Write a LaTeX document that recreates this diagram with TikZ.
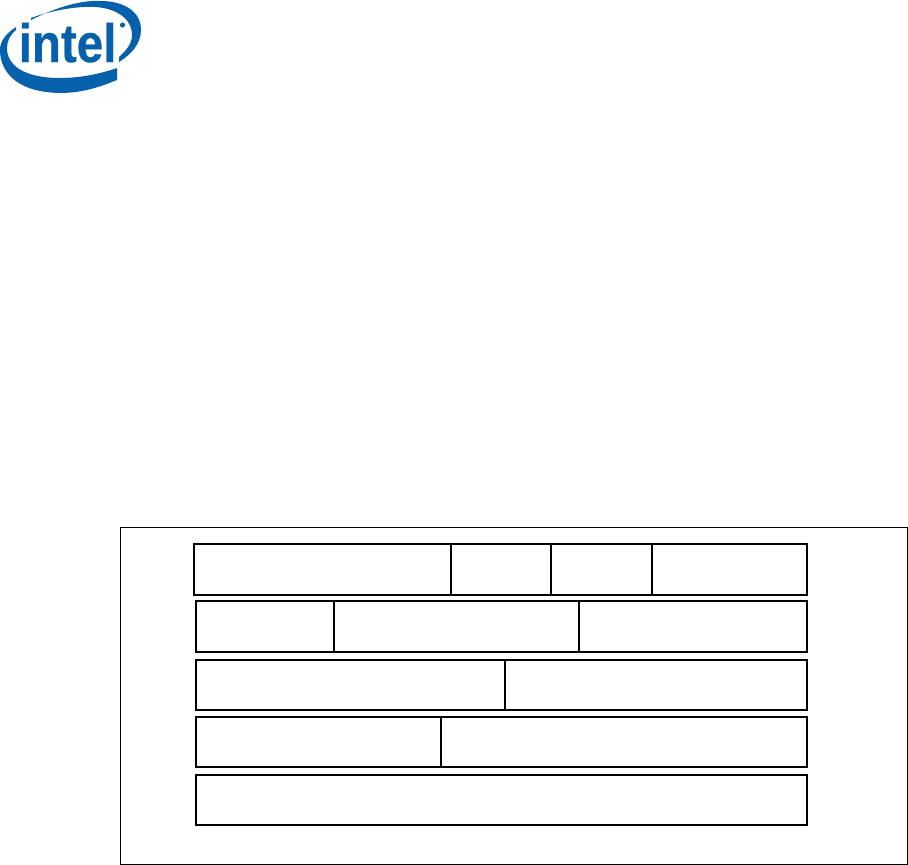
\documentclass[tikz,border=0pt]{standalone}
\usepackage{fontspec}
\setmainfont{Liberation Sans}
\newfontfamily\brandfont[FakeBold=0.6]{Liberation Sans Bold}
\definecolor{intelblue}{RGB}{6,96,172}
\tikzset{
  cell/.style={draw=black,line width=2pt,line join=miter},
  frame/.style={draw=black,line width=1pt},
  swoosh/.style={fill=intelblue,draw=none},
  brand/.style={text=intelblue,inner sep=0pt,anchor=base west}
}
\begin{document}
\begin{tikzpicture}[x=1pt,y=-1pt]
\useasboundingbox (0,0) rectangle (908,865);
\fill[white] (0,0) rectangle (908,865);
% logo
\path[swoosh] (31,20) .. controls (55,8) and (80,0) .. (100,1)
  .. controls (125,1) and (141,12) .. (141,30)
  .. controls (141,43) and (132,54) .. (119,62) -- (119,57)
  .. controls (127,50) and (132,43) .. (132,35)
  .. controls (132,18) and (115,8) .. (95,7)
  .. controls (75,6) and (50,11) .. (31,18) -- cycle;
\path[swoosh] (16,27) .. controls (5,34) and (0,42) .. (0,50)
  .. controls (0,68) and (12,92) .. (60,93)
  .. controls (82,93) and (100,87) .. (117,80) -- (117,68)
  .. controls (100,74) and (80,78) .. (60,78)
  .. controls (25,78) and (7,66) .. (7,48)
  .. controls (7,41) and (10,35) .. (16,30) -- cycle;
\node[brand] (logo) at (18.5,62) {\scalebox{0.88}[1]{\brandfont\fontsize{54}{54}\selectfont intel}};
\fill[intelblue] (122.5,25) circle (2.6);
% frame
\draw[frame] (120.5,527) rectangle (907.5,864);
% row 1
\draw[cell] (194,544) rectangle (807,595);
\draw[cell] (451,544) -- (451,595);
\draw[cell] (551,544) -- (551,595);
\draw[cell] (652,544) -- (652,595);
% row 2
\draw[cell] (196,601) rectangle (807,652);
\draw[cell] (334,601) -- (334,652);
\draw[cell] (579,601) -- (579,652);
% row 3
\draw[cell] (196,660) rectangle (807,710);
\draw[cell] (504.5,660) -- (504.5,710);
% row 4
\draw[cell] (196,717) rectangle (807,767);
\draw[cell] (441,717) -- (441,767);
% row 5
\draw[cell] (196,775) rectangle (807,825);
\end{tikzpicture}
\end{document}
